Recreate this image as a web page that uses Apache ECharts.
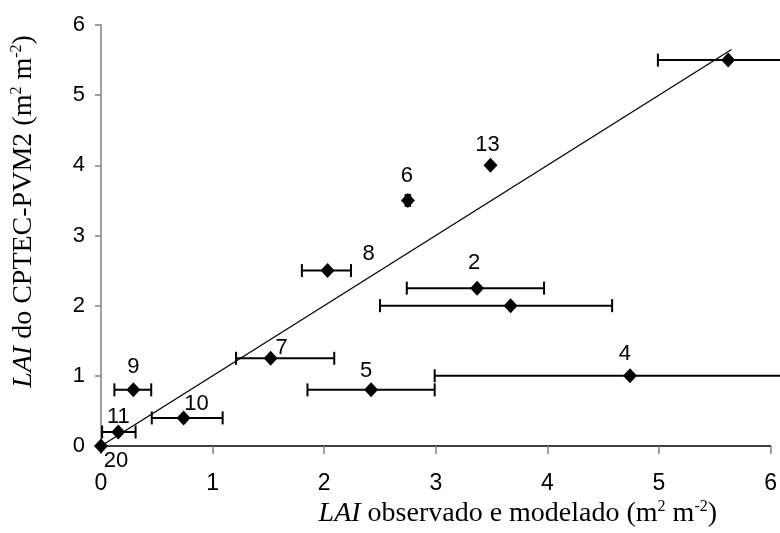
<!DOCTYPE html>
<html>
<head>
<meta charset="utf-8">
<script src="https://cdn.jsdelivr.net/npm/echarts@6/dist/echarts.min.js"></script>
<style>
  html, body { margin: 0; padding: 0; background: #fff; }
  #chart { width: 780px; height: 533px; }
</style>
</head>
<body>
<div id="chart"></div>
<script>
// pontos: rotulo, LAI observado (x), LAI CPTEC-PVM2 (y), barra de erro em x
var ids    = ['20', '11', '9', '10', '7', '5', '4', '2', '3', '6', '13', '8', '1'];
var xObs   = [0.0, 0.155, 0.29, 0.74, 1.52, 2.42, 4.74, 3.37, 3.67, 2.75, 3.49, 2.03, 5.62];
var yMod   = [0.0, 0.2, 0.8, 0.4, 1.25, 0.8, 1.0, 2.25, 2.0, 3.5, 4.0, 2.5, 5.5];
var xLow   = [null, 0.01, 0.12, 0.455, 1.21, 1.85, 2.99, 2.74, 2.5, 2.73, null, 1.8, 4.99];
var xHigh  = [null, 0.31, 0.45, 1.09, 2.09, 2.99, 6.6, 3.97, 4.58, 2.77, null, 2.24, 6.6];
var showId = [true, true, true, true, true, true, true, true, false, true, true, true, false];
var fitLine = [[0, 0], [5.65, 5.65]];

// deslocamento dos rotulos (pixels) em relacao ao ponto
var labelOff = [[15, 15], [0, -15], [0, -23], [13, -14], [11, -10], [-5, -19], [-5, -22],
                [-3, -25], [0, -20], [-1, -24], [-3, -20], [41, -17], [0, -25]];

var chart = echarts.init(document.getElementById('chart'));

var pts = [], bars = [];
for (var i = 0; i < ids.length; i++) {
  pts.push({
    value: [xObs[i], yMod[i]],
    label: { show: showId[i], formatter: ids[i], offset: labelOff[i] }
  });
  if (xLow[i] !== null) bars.push([xLow[i], xHigh[i], yMod[i]]);
}

var titleRich = {
  i: { fontStyle: 'italic', fontFamily: 'Liberation Serif', fontSize: 28, lineHeight: 30, color: '#000' },
  n: { fontFamily: 'Liberation Serif', fontSize: 28, lineHeight: 30, color: '#000' },
  s: { fontFamily: 'Liberation Serif', fontSize: 16, verticalAlign: 'top', lineHeight: 30, color: '#000' }
};

var option = {
  animation: false,
  grid: { left: 101, right: 7, top: 25, bottom: 86 },
  xAxis: {
    type: 'value', min: 0, max: 6, interval: 1,
    axisLine: { lineStyle: { color: '#000', width: 1.5 } },
    axisTick: { show: true, length: 8, lineStyle: { color: '#808080', width: 1.5 } },
    splitLine: { show: false },
    axisLabel: { color: '#000', fontSize: 23, fontFamily: 'Liberation Sans', margin: 26 },
    name: '{i|LAI}{n| observado e modelado (m}{s|2}{n| m}{s|-2}{n|)}',
    nameLocation: 'middle', nameGap: 53, nameMoveOverlap: false,
    nameTextStyle: { padding: [0, 0, 0, 164], rich: titleRich }
  },
  yAxis: {
    type: 'value', min: 0, max: 6, interval: 1,
    axisLine: { show: true, lineStyle: { color: '#808080', width: 1.5 } },
    axisTick: { show: true, length: 6, lineStyle: { color: '#808080', width: 1.5 } },
    splitLine: { show: false },
    axisLabel: { color: '#000', fontSize: 22, fontFamily: 'Liberation Sans', margin: 16 },
    name: '{i|LAI}{n| do CPTEC-PVM2 (m}{s|2}{n| m}{s|-2}{n|)}',
    nameLocation: 'middle', nameGap: 62, nameRotate: 90, nameMoveOverlap: false,
    nameTextStyle: { padding: [0, 0, 0, 48], rich: titleRich }
  },
  series: [
    {
      type: 'line',
      data: fitLine,
      symbol: 'none',
      lineStyle: { color: '#000', width: 1.3 },
      z: 2
    },
    {
      type: 'custom',
      clip: false,
      data: bars,
      encode: { x: [0, 1], y: 2 },
      renderItem: function (params, api) {
        var y = api.value(2);
        var a = api.coord([api.value(0), y]);
        var b = api.coord([api.value(1), y]);
        var h = 6.5;
        var st = { stroke: '#000', lineWidth: 2 };
        return {
          type: 'group',
          children: [
            { type: 'line', shape: { x1: a[0], y1: a[1], x2: b[0], y2: b[1] }, style: st },
            { type: 'line', shape: { x1: a[0], y1: a[1] - h, x2: a[0], y2: a[1] + h }, style: st },
            { type: 'line', shape: { x1: b[0], y1: b[1] - h, x2: b[0], y2: b[1] + h }, style: st }
          ]
        };
      },
      z: 3
    },
    {
      type: 'scatter',
      data: pts,
      symbol: 'diamond',
      symbolSize: [14, 15],
      itemStyle: { color: '#000', opacity: 1 },
      label: {
        show: true, position: 'inside',
        color: '#000', fontSize: 22, fontFamily: 'Liberation Sans'
      },
      z: 4
    }
  ]
};

chart.setOption(option);
</script>
</body>
</html>
